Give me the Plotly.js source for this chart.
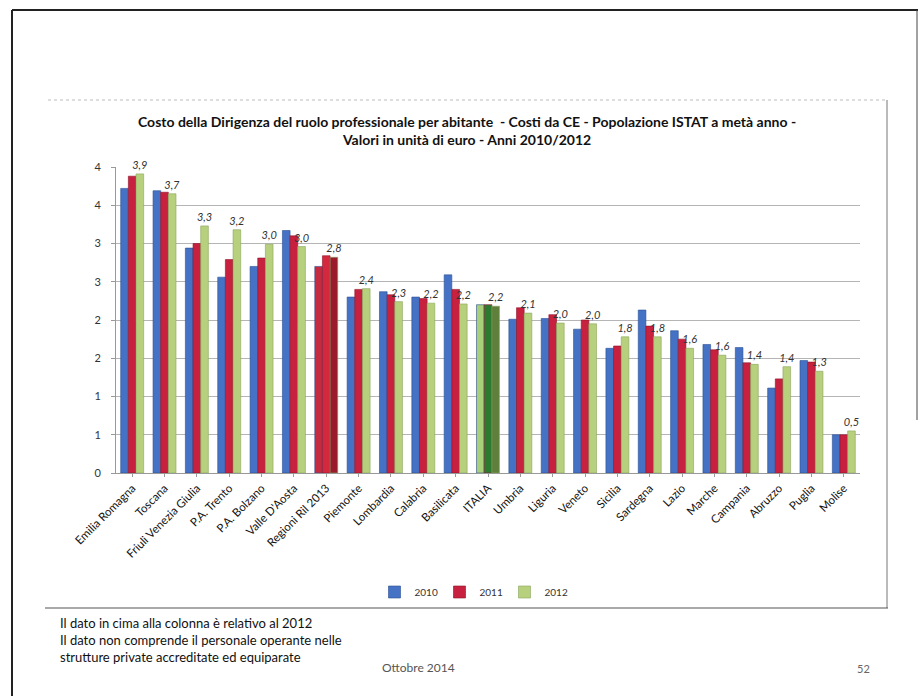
<!DOCTYPE html>
<html>
<head>
<meta charset="utf-8">
<script src="https://cdn.plot.ly/plotly-3.0.1.min.js"></script>
<style>
html,body{margin:0;padding:0;background:#fff;}
#chart{width:920px;height:696px;}
</style>
</head>
<body>
<div id="chart"></div>
<script>
const categories = ['Emilia Romagna','Toscana','Friuli Venezia Giulia','P.A. Trento','P.A. Bolzano',"Valle D'Aosta",'Regioni Ril 2013','Piemonte','Lombardia','Calabria','Basilicata','ITALIA','Umbria','Liguria','Veneto','Sicilia','Sardegna','Lazio','Marche','Campania','Abruzzo','Puglia','Molise'];
const v2010 = [3.72,3.69,2.94,2.56,2.70,3.17,2.70,2.30,2.37,2.30,2.59,2.20,2.01,2.02,1.88,1.63,2.13,1.86,1.68,1.64,1.11,1.47,0.50];
const v2011 = [3.88,3.67,3.00,2.79,2.81,3.10,2.84,2.40,2.33,2.28,2.40,2.20,2.16,2.07,2.00,1.66,1.92,1.75,1.61,1.44,1.23,1.45,0.50];
const v2012 = [3.91,3.65,3.23,3.18,2.99,2.96,2.82,2.41,2.24,2.22,2.21,2.18,2.09,1.96,1.95,1.78,1.78,1.63,1.54,1.42,1.39,1.33,0.55];
const labels2012 = ['3,9','3,7','3,3','3,2','3,0','3,0','2,8','2,4','2,3','2,2','2,2','2,2','2,1','2,0','2,0','1,8','1,8','1,6','1,6','1,4','1,4','1,3','0,5'];
const seriesNames = ['2010','2011','2012'];
const yTickVals = [0,0.5,1,1.5,2,2.5,3,3.5,4];
const yTickText = ['0','1','1','2','2','3','3','4','4'];
const titleLines = ['Costo della Dirigenza del ruolo professionale per abitante  - Costi da CE - Popolazione ISTAT a metà anno -','Valori in unità di euro - Anni 2010/2012'];
const notes = ['Il dato in cima alla colonna è relativo al 2012','Il dato non comprende il personale operante nelle','strutture private accreditate ed equiparate'];
const footerDate = 'Ottobre 2014';
const pageNum = '52';

// layout geometry (pixels)
const W = 920, H = 696;
const L = 116, R = 860, T = 167, B = 473;
const pw = R - L, ph = B - T;
const px = x => (x - L) / pw;
const py = y => (B - y) / ph;

const baseCol = ['#4572c4', '#c8213f', '#b6d07e'];
const edgeCol = ['#2a4f94', '#8e1228', '#8aa45a'];
const special = {
  'Regioni Ril 2013': ['#c62a40', '#d4283f', '#9a1b2b'],
  'ITALIA': ['#a8cf7a', '#2c7a30', '#5f803c']
};
function colorsFor(si) {
  return categories.map(c => special[c] ? special[c][si] : baseCol[si]);
}
const vals = [v2010, v2011, v2012];
const traces = vals.map((v, si) => ({
  type: 'bar',
  name: seriesNames[si],
  x: categories,
  y: v,
  marker: {color: colorsFor(si), line: {color: edgeCol[si], width: 0.6}},
  text: si === 2 ? labels2012 : undefined,
  textposition: si === 2 ? 'outside' : 'none',
  textfont: {family: 'Lato, sans-serif', size: 11, color: '#333', style: 'italic'},
  constraintext: 'none',
  cliponaxis: false,
  hoverinfo: 'x+y'
}));

const annotations = [
  {xref:'paper', yref:'paper', x: px(467), y: py(130), text: titleLines.join('<br>'), showarrow:false,
   font:{family:'Lato, sans-serif', size:14, color:'#111', weight:700}, xanchor:'center', yanchor:'middle', align:'center'},
  {xref:'paper', yref:'paper', x: px(58), y: py(640), text: notes.join('<br>'), showarrow:false,
   font:{family:'Lato, sans-serif', size:13, color:'#111'}, xanchor:'left', yanchor:'middle', align:'left'},
  {xref:'paper', yref:'paper', x: px(418), y: py(667), text: footerDate, showarrow:false,
   font:{family:'Lato, sans-serif', size:12, color:'#555'}, xanchor:'center', yanchor:'middle'},
  {xref:'paper', yref:'paper', x: px(863), y: py(668), text: pageNum, showarrow:false,
   font:{family:'Lato, sans-serif', size:11, color:'#666'}, xanchor:'center', yanchor:'middle'}
];

const line = (x0,y0,x1,y1,color,width,dash) => ({type:'line', xref:'paper', yref:'paper',
  x0:px(x0), y0:py(y0), x1:px(x1), y1:py(y1), line:{color:color, width:width, dash:dash||'solid'}, layer:'above'});
const shapes = [
  line(12,10,918,10,'#222',2),
  line(12,10,12,696,'#222',2),
  line(917,10,917,420,'#444',1),
  line(48,100,887,100,'#bbb',1,'dot'),
  line(887,100,887,608,'#777',1),
  line(45,608,888,608,'#555',1.2)
];

const layout = {
  width: W, height: H,
  margin: {l: L, r: W - R, t: T, b: H - B, pad: 0},
  paper_bgcolor: '#fff', plot_bgcolor: '#fff',
  font: {family: 'Lato, sans-serif', color: '#222'},
  barmode: 'group',
  bargap: 0.29, bargroupgap: 0,
  showlegend: true,
  legend: {orientation:'h', x: px(472), xanchor:'center', y: py(592), yanchor:'middle',
    font:{size:10, color:'#333'}, itemwidth: 30, entrywidth: 20, entrywidthmode: 'pixels', traceorder:'normal'},
  xaxis: {
    type:'category', tickangle:-45, tickfont:{size:11.5, color:'#111'},
    showline:true, linecolor:'#999', linewidth:1, ticks:'outside', ticklen:3, tickcolor:'#999',
    showgrid:false, automargin:false
  },
  yaxis: {
    range:[0,4], tickvals: yTickVals, ticktext: yTickText, tickfont:{size:11, color:'#333'},
    showline:true, linecolor:'#999', linewidth:1, ticks:'outside', ticklen:4, tickcolor:'#999',
    showgrid:true, gridcolor:'#b5b5b5', gridwidth:1, zeroline:false, ticklabelstandoff:8, automargin:false
  },
  shapes: shapes,
  annotations: annotations
};
Plotly.newPlot('chart', traces, layout, {displayModeBar:false, staticPlot:true});
</script>
</body>
</html>
